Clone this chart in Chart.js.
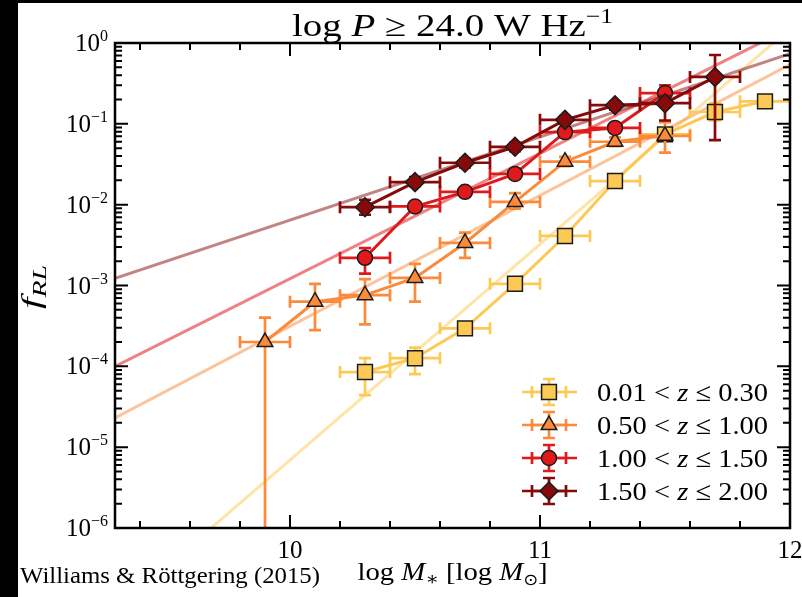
<!DOCTYPE html>
<html>
<head>
<meta charset="utf-8">
<script src="https://cdn.jsdelivr.net/npm/chart.js@4.4.1/dist/chart.umd.min.js"></script>
<style>
  body { margin: 0; background: #000; }
  #wrap { position: absolute; left: 18px; top: 3px; width: 784px; height: 594px; background: #fff; }
</style>
</head>
<body>
<div id="wrap"><canvas id="frl" width="784" height="594"></canvas></div>
<script>
// radio-loud fraction per stellar mass bin, four redshift slices
const massYel = [10.3, 10.5, 10.7, 10.9, 11.1, 11.3, 11.5, 11.7, 11.9];
const fracYel = [8.5e-5, 1.26e-4, 2.95e-4, 1.05e-3, 4.1e-3, 0.0196, 0.074, 0.14, 0.19];
const fracYelLo = [4.4e-5, 8.0e-5, 2.5e-4, 0.9e-3, 3.6e-3, 0.017, 0.062, 0.11, 0.17];
const fracYelHi = [1.26e-4, 1.7e-4, 3.5e-4, 1.2e-3, 4.7e-3, 0.022, 0.088, 0.18, 0.21];

const massOra = [9.9, 10.1, 10.3, 10.5, 10.7, 10.9, 11.1, 11.3, 11.5];
const fracOra = [2.0e-4, 6.3e-4, 7.6e-4, 1.24e-3, 3.36e-3, 0.0108, 0.034, 0.060, 0.071];
const fracOraLo = [1e-8, 2.8e-4, 3.3e-4, 6.3e-4, 2.2e-3, 0.0089, 0.030, 0.053, 0.044];
const fracOraHi = [4.0e-4, 1.05e-3, 1.2e-3, 1.85e-3, 4.5e-3, 0.0139, 0.039, 0.068, 0.105];

const massRed = [10.3, 10.5, 10.7, 10.9, 11.1, 11.3, 11.5];
const fracRed = [2.2e-3, 9.5e-3, 0.0144, 0.024, 0.079, 0.089, 0.24];
const fracRedLo = [1.4e-3, 8.5e-3, 0.013, 0.021, 0.070, 0.078, 0.19];
const fracRedHi = [2.9e-3, 0.0106, 0.016, 0.027, 0.090, 0.101, 0.30];

const massDark = [10.3, 10.5, 10.7, 10.9, 11.1, 11.3, 11.5, 11.7];
const fracDark = [9.3e-3, 0.019, 0.033, 0.052, 0.112, 0.17, 0.18, 0.38];
const fracDarkLo = [7.5e-3, 0.017, 0.029, 0.046, 0.100, 0.15, 0.11, 0.063];
const fracDarkHi = [0.0115, 0.022, 0.037, 0.058, 0.125, 0.19, 0.22, 0.71];

const massHalfWidth = 0.1;

// power-law fits, end points
const fitYelM = [9.685, 12.0], fitYelF = [1e-6, 1.51];
const fitOraM = [9.3, 12.0], fitOraF = [2.3e-5, 0.54];
const fitRedM = [9.3, 12.0], fitRedF = [1.0e-4, 1.53];
const fitDarkM = [9.3, 12.0], fitDarkF = [1.23e-3, 0.74];

// legend / tick text
const zLow = ['0.01', '0.50', '1.00', '1.50'];
const zHigh = ['0.30', '1.00', '1.50', '2.00'];
const yTickExp = [0, -1, -2, -3, -4, -5, -6];
const xTickVals = [10, 11, 12];
const xTickLabels = ['10', '11', '12'];

const colYel = '#fdc955', colOra = '#fb8a3a', colRed = '#e0191c', colDark = '#860a0a';
const SERIF = '"Liberation Serif", "DejaVu Serif", serif';

function pts(xs, ys) {
    return xs.map((x, i) => ({ x: x, y: ys[i] }));
}

function series(label, m, f, lo, hi, col, style, r, order) {
    return {
        label: label, data: pts(m, f), errLo: lo, errHi: hi,
        showLine: true, borderColor: col, borderWidth: 3,
        pointStyle: style, pointRadius: r, pointHoverRadius: r,
        pointBackgroundColor: col, pointBorderColor: '#1b1b1b', pointBorderWidth: 1.5,
        order: order, clip: 0
    };
}

function fit(m, f, col) {
    return { data: pts(m, f), showLine: true, borderColor: col, borderWidth: 3,
             pointRadius: 0, order: 10, clip: 0 };
}

// mixed font text: runs of {t, font, dy}, optionally stretched to a width
function drawRuns(ctx, runs, x, y, align, width) {
    let total = 0;
    runs.forEach(r => { ctx.font = r.font; r.w = ctx.measureText(r.t).width; total += r.w; });
    const sx = width ? width / total : 1;
    ctx.save();
    ctx.translate(x, y);
    ctx.scale(sx, 1);
    let cx = align === 'center' ? -total / 2 : (align === 'right' ? -total : 0);
    runs.forEach(r => { ctx.font = r.font; ctx.fillText(r.t, cx, r.dy || 0); cx += r.w; });
    ctx.restore();
}

function errCross(ctx, x, y, x0, x1, y0, y1, cap) {
    ctx.beginPath();
    ctx.moveTo(x0, y); ctx.lineTo(x1, y);
    ctx.moveTo(x, y0); ctx.lineTo(x, y1);
    ctx.moveTo(x0, y - cap); ctx.lineTo(x0, y + cap);
    ctx.moveTo(x1, y - cap); ctx.lineTo(x1, y + cap);
    ctx.moveTo(x - cap, y0); ctx.lineTo(x + cap, y0);
    ctx.moveTo(x - cap, y1); ctx.lineTo(x + cap, y1);
    ctx.stroke();
}

const errorBars = {
    id: 'errorBars',
    beforeDatasetDraw(chart, args) {
        const ds = chart.data.datasets[args.index];
        if (!ds.errLo) return;
        const ctx = chart.ctx, a = chart.chartArea;
        const xs = chart.scales.x, ys = chart.scales.y;
        ctx.save();
        ctx.beginPath();
        ctx.rect(a.left, a.top, a.right - a.left, a.bottom - a.top);
        ctx.clip();
        ctx.strokeStyle = ds.borderColor;
        ctx.lineWidth = 2.7;
        ds.data.forEach((p, i) => {
            errCross(ctx, xs.getPixelForValue(p.x), ys.getPixelForValue(p.y),
                xs.getPixelForValue(p.x - massHalfWidth), xs.getPixelForValue(p.x + massHalfWidth),
                ys.getPixelForValue(ds.errHi[i]), ys.getPixelForValue(ds.errLo[i]), 6);
        });
        ctx.restore();
    }
};

const decorations = {
    id: 'decorations',
    afterDraw(chart) {
        const ctx = chart.ctx, a = chart.chartArea;
        const xs = chart.scales.x, ys = chart.scales.y;
        ctx.save();
        ctx.strokeStyle = '#000';
        ctx.fillStyle = '#000';

        // inward ticks
        ctx.lineWidth = 2;
        ctx.beginPath();
        for (let e = -6; e <= 0; e++) {
            for (let k = 1; k <= 9; k++) {
                const v = k * Math.pow(10, e);
                if (v > 1) break;
                const py = ys.getPixelForValue(v), len = k === 1 ? 13 : 7;
                ctx.moveTo(a.left, py); ctx.lineTo(a.left + len, py);
                ctx.moveTo(a.right, py); ctx.lineTo(a.right - len, py);
            }
        }
        for (let j = 47; j <= 60; j++) {
            const px = xs.getPixelForValue(j / 5), len = j % 5 === 0 ? 13 : 7;
            ctx.moveTo(px, a.bottom); ctx.lineTo(px, a.bottom - len);
            ctx.moveTo(px, a.top); ctx.lineTo(px, a.top + len);
        }
        ctx.stroke();

        ctx.lineWidth = 2.5;
        ctx.strokeRect(a.left, a.top, a.right - a.left, a.bottom - a.top);

        // tick labels
        yTickExp.forEach(e => {
            const py = ys.getPixelForValue(Math.pow(10, e));
            const sup = e === 0 ? '0' : '\u2212' + Math.abs(e);
            drawRuns(ctx, [
                { t: '10', font: '25px ' + SERIF },
                { t: sup, font: '16px ' + SERIF, dy: -10 }
            ], 90, py + 8, 'right');
        });
        xTickVals.forEach((v, i) => {
            drawRuns(ctx, [{ t: xTickLabels[i], font: '25px ' + SERIF }],
                xs.getPixelForValue(v), a.bottom + 30, 'center');
        });

        // title
        const cx = (a.left + a.right) / 2;
        drawRuns(ctx, [
            { t: 'log ', font: '32px ' + SERIF },
            { t: 'P', font: 'italic 32px ' + SERIF },
            { t: ' \u2265 24.0 W Hz', font: '32px ' + SERIF },
            { t: '\u22121', font: '21px ' + SERIF, dy: -13 }
        ], cx, 33, 'center', 321);

        // axis labels
        drawRuns(ctx, [
            { t: 'log ', font: '26px ' + SERIF },
            { t: 'M', font: 'italic 26px ' + SERIF },
            { t: '\u2217', font: '18px ' + SERIF, dy: 5 },
            { t: ' [log ', font: '26px ' + SERIF },
            { t: 'M', font: 'italic 26px ' + SERIF },
            { t: '\u2299', font: '16px "DejaVu Sans", ' + SERIF, dy: 5 },
            { t: ']', font: '26px ' + SERIF }
        ], cx, 577, 'center', 190);

        ctx.save();
        ctx.translate(22, 284);
        ctx.rotate(-Math.PI / 2);
        drawRuns(ctx, [
            { t: 'f', font: 'italic 28px ' + SERIF },
            { t: 'RL', font: 'italic 19px ' + SERIF, dy: 6 }
        ], 0, 0, 'center', 44);
        ctx.restore();

        drawRuns(ctx, [{ t: 'Williams & R\u00f6ttgering (2015)', font: '24px ' + SERIF }],
            2, 580, 'left', 300);

        // legend
        const legend = [
            { col: colYel, style: 'rect', r: 10.5 },
            { col: colOra, style: 'triangle', r: 9 },
            { col: colRed, style: 'circle', r: 7.5 },
            { col: colDark, style: 'rectRot', r: 9 }
        ];
        legend.forEach((item, i) => {
            const ly = 389 + i * 33, lx = 531;
            ctx.strokeStyle = item.col;
            ctx.lineWidth = 2.7;
            ctx.beginPath();
            ctx.moveTo(lx - 27, ly); ctx.lineTo(lx + 28, ly);
            ctx.stroke();
            errCross(ctx, lx, ly, lx - 17, lx + 17, ly - 13, ly + 13, 6);
            ctx.fillStyle = item.col;
            ctx.strokeStyle = '#1b1b1b';
            ctx.lineWidth = 1.5;
            Chart.helpers.drawPoint(ctx, { pointStyle: item.style, radius: item.r, rotation: 0, borderWidth: 1.5 }, lx, ly);
            ctx.fillStyle = '#000';
            drawRuns(ctx, [
                { t: zLow[i] + ' < ', font: '26px ' + SERIF },
                { t: 'z', font: 'italic 26px ' + SERIF },
                { t: ' \u2264 ' + zHigh[i], font: '26px ' + SERIF }
            ], 579, ly + 9, 'left', 171);
        });
        ctx.restore();
    }
};

new Chart(document.getElementById('frl'), {
    type: 'scatter',
    data: {
        datasets: [
            series('1.50 < z \u2264 2.00', massDark, fracDark, fracDarkLo, fracDarkHi, colDark, 'rectRot', 9.5, 1),
            series('1.00 < z \u2264 1.50', massRed, fracRed, fracRedLo, fracRedHi, colRed, 'circle', 7.5, 2),
            series('0.50 < z \u2264 1.00', massOra, fracOra, fracOraLo, fracOraHi, colOra, 'triangle', 9, 3),
            series('0.01 < z \u2264 0.30', massYel, fracYel, fracYelLo, fracYelHi, colYel, 'rect', 10.5, 4),
            fit(fitDarkM, fitDarkF, 'rgba(134,10,10,0.5)'),
            fit(fitRedM, fitRedF, 'rgba(224,25,28,0.55)'),
            fit(fitOraM, fitOraF, 'rgba(251,138,58,0.5)'),
            fit(fitYelM, fitYelF, 'rgba(253,201,85,0.5)')
        ]
    },
    options: {
        responsive: false,
        devicePixelRatio: 1,
        animation: false,
        layout: { padding: { left: 97, top: 40, right: 10, bottom: 69 } },
        plugins: { legend: { display: false }, title: { display: false }, tooltip: { enabled: false } },
        scales: {
            x: { type: 'linear', min: 9.3, max: 12.0, display: false },
            y: { type: 'logarithmic', min: 1e-6, max: 1, display: false }
        }
    },
    plugins: [errorBars, decorations]
});
</script>
</body>
</html>
